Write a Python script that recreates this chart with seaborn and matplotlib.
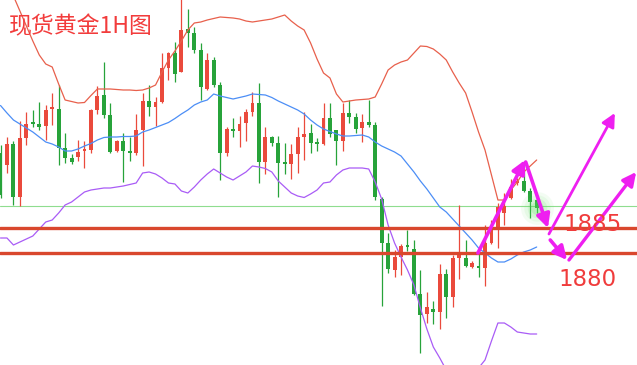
import numpy as np
import pandas as pd
import matplotlib
matplotlib.use("Agg")
import matplotlib.pyplot as plt
import seaborn as sns

# ---------------- data ----------------
title = "现货黄金1H图"

opens = [1900.0, 1897.6, 1901.8, 1891.2, 1903.0, 1906.0, 1905.8, 1905.4, 1908.8, 1908.8,
         1901.0, 1899.0, 1899.2, 1900.4, 1900.6, 1908.6, 1911.6, 1907.6, 1900.4, 1902.4,
         1900.4, 1900.0, 1904.6, 1910.4, 1909.2, 1910.2, 1917.0, 1920.0, 1916.2, 1924.8,
         1924.0, 1920.6, 1912.8, 1918.6, 1913.6, 1900.0, 1904.6, 1904.4, 1906.0, 1908.2,
         1910.0, 1898.2, 1903.2, 1902.0, 1898.0, 1897.8, 1899.8, 1903.2, 1904.0, 1902.0,
         1901.8, 1907.0, 1904.6, 1902.4, 1908.0, 1907.2, 1905.0, 1906.2, 1905.6, 1890.8,
         1882.0, 1876.6, 1879.2, 1881.4, 1880.8, 1871.8, 1867.8, 1868.8, 1868.2, 1875.8,
         1871.2, 1879.0, 1879.0, 1877.2, 1877.2, 1877.0, 1882.0, 1884.6, 1888.0, 1891.0,
         1894.0, 1894.4, 1892.4, 1890.6]
highs = [1901.6, 1903.2, 1902.4, 1906.4, 1908.2, 1908.6, 1910.2, 1909.6, 1912.0, 1913.6,
         1904.0, 1899.8, 1902.6, 1902.4, 1908.8, 1913.4, 1918.2, 1910.0, 1902.6, 1904.0,
         1903.2, 1907.8, 1912.0, 1913.6, 1911.2, 1920.0, 1920.2, 1922.2, 1931.2, 1928.8,
         1925.2, 1922.0, 1920.0, 1919.2, 1914.2, 1905.2, 1907.0, 1907.4, 1908.8, 1912.2,
         1914.0, 1905.2, 1903.4, 1903.4, 1902.0, 1901.8, 1905.2, 1908.2, 1905.8, 1903.0,
         1910.0, 1910.0, 1904.6, 1910.0, 1910.6, 1908.0, 1907.8, 1910.6, 1906.2, 1891.2,
         1884.0, 1880.6, 1881.8, 1884.6, 1882.6, 1876.6, 1872.2, 1870.4, 1877.8, 1876.8,
         1879.6, 1889.6, 1882.6, 1878.4, 1880.2, 1885.6, 1886.6, 1890.0, 1892.0, 1894.8,
         1895.0, 1898.2, 1893.0, 1891.0]
lows = [1891.0, 1896.0, 1889.6, 1889.4, 1901.6, 1905.2, 1904.6, 1902.6, 1905.6, 1897.6,
        1898.0, 1897.8, 1898.4, 1897.0, 1900.0, 1907.8, 1907.0, 1900.0, 1900.2, 1894.2,
        1898.4, 1899.6, 1897.4, 1907.4, 1905.4, 1910.0, 1914.6, 1914.2, 1916.2, 1921.2,
        1920.0, 1910.6, 1912.6, 1913.2, 1894.6, 1899.4, 1903.2, 1901.2, 1902.4, 1907.4,
        1894.0, 1895.8, 1901.4, 1891.2, 1895.8, 1894.8, 1896.0, 1898.6, 1900.0, 1900.4,
        1901.6, 1903.2, 1897.6, 1900.4, 1906.0, 1904.0, 1902.2, 1905.2, 1890.6, 1869.4,
        1876.0, 1875.2, 1875.6, 1880.4, 1871.6, 1860.0, 1866.0, 1865.8, 1864.8, 1867.0,
        1869.2, 1874.8, 1877.2, 1877.0, 1875.2, 1873.4, 1881.8, 1881.0, 1885.6, 1890.8,
        1893.6, 1892.2, 1887.0, 1888.0]
closes = [1891.6, 1901.8, 1891.2, 1903.0, 1905.8, 1905.8, 1905.2, 1908.6, 1909.0, 1901.0,
          1899.0, 1898.2, 1900.2, 1900.6, 1908.6, 1911.4, 1907.6, 1900.2, 1902.4, 1900.4,
          1900.0, 1904.6, 1910.4, 1909.2, 1910.2, 1917.0, 1920.0, 1915.8, 1924.6, 1924.0,
          1920.6, 1913.2, 1918.6, 1913.6, 1900.0, 1904.8, 1904.4, 1905.8, 1908.2, 1910.0,
          1898.2, 1903.2, 1902.0, 1898.0, 1897.8, 1899.8, 1903.2, 1903.8, 1902.0, 1901.8,
          1907.0, 1903.8, 1902.4, 1908.0, 1907.2, 1904.8, 1906.2, 1905.6, 1891.2, 1882.0,
          1876.8, 1879.2, 1881.4, 1881.2, 1871.8, 1867.6, 1869.2, 1868.2, 1875.8, 1871.2,
          1879.0, 1879.6, 1877.4, 1878.0, 1877.0, 1882.0, 1884.6, 1889.2, 1889.4, 1893.2,
          1894.4, 1892.4, 1890.2, 1889.0]

boll_upper = [1937.4, 1934.4, 1931.4, 1928.4, 1925.4, 1922.4, 1919.6, 1917.8, 1917.2, 1913.8,
              1910.6, 1910.3, 1910.0, 1910.1, 1911.5, 1912.8, 1912.8, 1912.8, 1912.7, 1912.6,
              1912.6, 1912.5, 1912.6, 1913.0, 1913.6, 1916.2, 1918.6, 1920.4, 1922.4, 1924.6,
              1926.0, 1926.2, 1926.6, 1926.9, 1927.2, 1927.1, 1927.0, 1926.8, 1926.4, 1926.2,
              1926.4, 1926.6, 1926.8, 1927.2, 1927.6, 1926.4, 1925.4, 1924.6, 1922.0, 1918.8,
              1916.0, 1915.0, 1911.8, 1910.2, 1910.4, 1910.6, 1910.7, 1910.8, 1911.2, 1913.8,
              1916.6, 1917.6, 1918.2, 1918.6, 1920.0, 1921.4, 1921.3, 1920.8, 1919.8, 1918.6,
              1916.2, 1914.0, 1912.0, 1908.2, 1904.2, 1900.6, 1895.6, 1890.6, 1890.6, 1892.6,
              1894.2, 1896.2, 1897.4, 1898.6]
boll_mid = [1909.5, 1908.0, 1906.6, 1905.8, 1905.0, 1904.2, 1903.2, 1902.2, 1901.8, 1901.2,
            1900.4, 1900.4, 1900.8, 1901.4, 1901.9, 1902.6, 1903.1, 1903.2, 1903.2, 1903.3,
            1903.3, 1903.4, 1904.2, 1904.6, 1905.1, 1905.6, 1906.1, 1906.9, 1907.8, 1908.6,
            1909.6, 1910.2, 1910.6, 1911.8, 1911.4, 1911.1, 1910.8, 1911.1, 1911.4, 1911.8,
            1911.7, 1911.6, 1911.1, 1910.4, 1909.8, 1909.2, 1908.6, 1907.8, 1906.6, 1905.6,
            1904.8, 1904.3, 1903.8, 1903.4, 1903.4, 1903.5, 1903.6, 1903.2, 1902.2, 1901.4,
            1900.8, 1900.2, 1899.4, 1897.8, 1896.2, 1894.4, 1892.8, 1891.0, 1889.2, 1888.2,
            1886.8, 1885.4, 1884.0, 1882.6, 1881.0, 1880.0, 1879.0, 1878.2, 1878.2, 1878.8,
            1879.6, 1880.2, 1880.6, 1881.2]
boll_lower = [1883.0, 1883.0, 1881.6, 1882.2, 1882.8, 1883.4, 1884.8, 1886.2, 1886.6, 1888.0,
              1889.6, 1890.2, 1891.2, 1892.2, 1892.6, 1892.8, 1893.0, 1893.0, 1893.2, 1893.4,
              1893.7, 1894.0, 1896.0, 1896.2, 1895.8, 1895.0, 1894.0, 1893.8, 1892.4, 1892.0,
              1893.2, 1894.6, 1895.8, 1896.8, 1896.0, 1895.2, 1894.6, 1895.4, 1896.2, 1897.4,
              1897.2, 1896.9, 1896.2, 1894.4, 1893.2, 1892.0, 1891.4, 1891.1, 1891.8, 1892.6,
              1894.0, 1894.2, 1895.6, 1896.6, 1897.0, 1897.0, 1897.0, 1896.8, 1894.2, 1890.8,
              1885.6, 1882.0, 1879.2, 1876.6, 1873.6, 1869.0, 1864.8, 1861.2, 1859.0, 1856.6,
              1855.0, 1854.6, 1855.0, 1855.8, 1857.0, 1858.6, 1862.4, 1866.0, 1866.0, 1865.2,
              1864.2, 1864.0, 1863.8, 1863.8]

levels = [1885, 1880]
level_labels = ["1885", "1880"]
current_price = 1889.4

# analyst arrows: (start bar, start price, end bar, end price)
arrows = [
    (73.9, 1880.0, 81.2, 1898.6),
    (81.3, 1898.2, 84.75, 1885.0),
    (84.9, 1883.8, 95.1, 1908.0),
    (85.1, 1882.6, 87.7, 1878.6),
    (88.0, 1878.6, 98.4, 1896.2),
]
arrow_widths = [2.6, 2.6, 2.0, 2.6, 2.4]
label_pos = [(91.7, 1885.6), (90.8, 1874.6)]

# ---------------- drawing ----------------
sns.set_style("white")
plt.rcParams['font.family'] = ['Noto Sans CJK SC', 'DejaVu Sans']

df = pd.DataFrame({"open": opens, "high": highs, "low": lows, "close": closes,
                   "upper": boll_upper, "mid": boll_mid, "lower": boll_lower})
df["bar"] = np.arange(len(df))

RED = "#ea4a3c"
GREEN = "#27a33a"

fig = plt.figure(figsize=(6.37, 3.65), dpi=100)
ax = fig.add_axes([0, 0, 1, 1])
ax.axis("off")

up = df["close"] >= df["open"]
colors = np.where(up, RED, GREEN)
ax.vlines(df["bar"], df["low"], df["high"], colors=colors, linewidth=0.9, zorder=2)
body_bottom = np.minimum(df["open"], df["close"])
body_h = np.maximum(np.abs(df["close"] - df["open"]), 0.3)
ax.bar(df["bar"], body_h, bottom=body_bottom, width=0.6, color=colors,
       linewidth=0, zorder=3)

sns.lineplot(data=df, x="bar", y="upper", ax=ax, color="#e8604c", linewidth=0.9,
             legend=False, zorder=4)
sns.lineplot(data=df, x="bar", y="mid", ax=ax, color="#4c8ef6", linewidth=0.9,
             legend=False, zorder=4)
sns.lineplot(data=df, x="bar", y="lower", ax=ax, color="#a95cf6", linewidth=0.9,
             legend=False, zorder=4)
ax.set_xlim(-0.08, 98.53)
ax.set_ylim(1857.6, 1930.6)

ax.axhline(current_price, color="#8fdd8f", linewidth=0.8, zorder=1)
for lv in levels:
    ax.axhline(lv, color="#d9472d", linewidth=2.4, zorder=5)

# green glow at last bar
last_bar = df["bar"].iloc[-1]
last_close = df["close"].iloc[-1]
for s, a in [(560, 0.07), (360, 0.09), (200, 0.13), (90, 0.2)]:
    ax.scatter([last_bar], [last_close], s=s, color="#5ee05e", alpha=a,
               linewidths=0, zorder=6)

MAG = "#ee1ff0"
for (x0, y0, x1, y1), w in zip(arrows, arrow_widths):
    ax.annotate("", xy=(x1, y1), xytext=(x0, y0),
                arrowprops=dict(arrowstyle="-|>", color=MAG, lw=w,
                                mutation_scale=20, shrinkA=0, shrinkB=0),
                zorder=7)

for (lx, ly), t in zip(label_pos, level_labels):
    ax.text(lx, ly, t, color="#f03c3c", fontsize=16.5, ha="center", va="center",
            family=["DejaVu Sans"], zorder=8)

ax.text(0.012, 0.926, title, transform=ax.transAxes, color="#f23c3c",
        fontsize=16.5, ha="left", va="center", zorder=8)

fig.savefig("out.png", dpi=100)
